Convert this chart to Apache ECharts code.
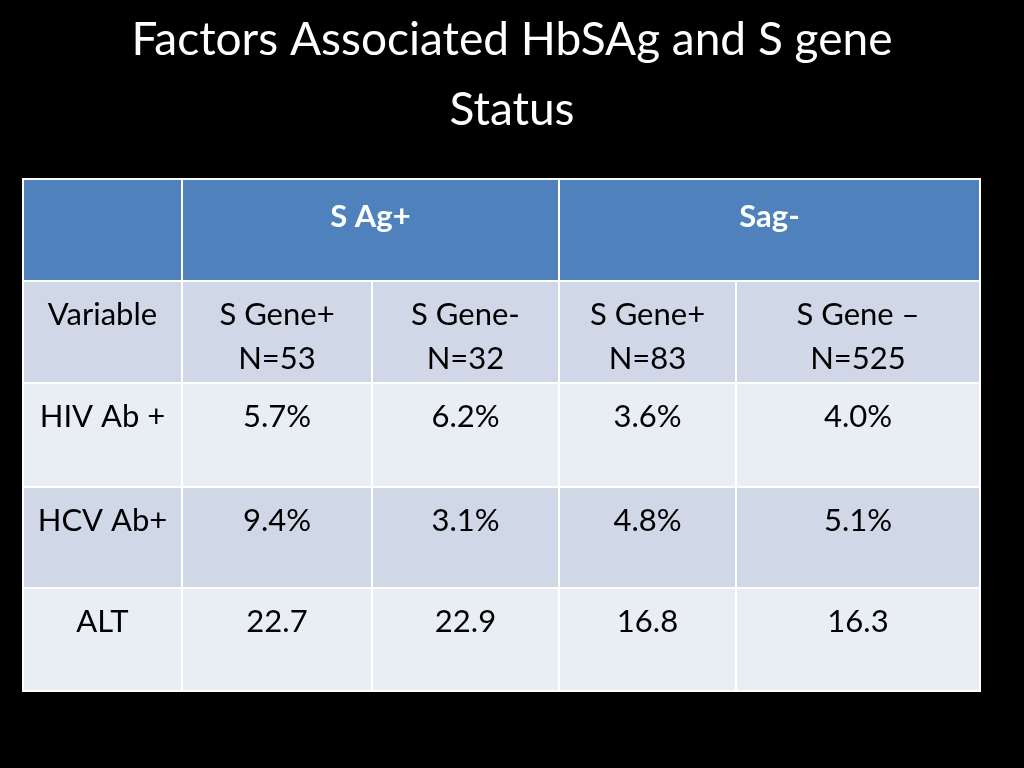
<!DOCTYPE html>
<html>
<head>
<meta charset="UTF-8">
<title>Factors Associated HbSAg and S gene Status</title>
<script src="https://cdn.jsdelivr.net/npm/echarts@6/dist/echarts.min.js"></script>
<style>html,body{margin:0;background:#000;}#main{width:1024px;height:768px;}</style>
</head>
<body>
<div id="main"></div>
<script>
var title = 'Factors Associated HbSAg and S gene\nStatus';
var groupLabels = ['', 'S Ag+', 'Sag-'];
var subLabels = ['Variable', 'S Gene+\nN=53', 'S Gene-\nN=32', 'S Gene+\nN=83', 'S Gene \u2013\nN=525'];
var rowLabels = ['HIV Ab +', 'HCV Ab+', 'ALT'];
var hivValues = ['5.7%', '6.2%', '3.6%', '4.0%'];
var hcvValues = ['9.4%', '3.1%', '4.8%', '5.1%'];
var altValues = ['22.7', '22.9', '16.8', '16.3'];

// layout (pixel grid)
var colEdges = [23, 182, 372, 559, 736, 980];
var rowEdges = [179, 281, 383, 487, 588, 691];
var fills = ['#4F81BD', '#D0D8E8', '#E9EDF4', '#D0D8E8', '#E9EDF4'];

// cell: [colStart, colEnd, row, text]
var cells = [];
cells.push([0, 1, 0, groupLabels[0]], [1, 3, 0, groupLabels[1]], [3, 5, 0, groupLabels[2]]);
subLabels.forEach(function (t, i) { cells.push([i, i + 1, 1, t]); });
[hivValues, hcvValues, altValues].forEach(function (vals, r) {
    cells.push([0, 1, r + 2, rowLabels[r]]);
    vals.forEach(function (v, i) { cells.push([i + 1, i + 2, r + 2, v]); });
});

var chart = echarts.init(document.getElementById('main'));
chart.setOption({
    backgroundColor: '#000',
    title: {
        text: title, left: 'center', top: 0,
        textStyle: {color: '#fff', fontFamily: 'Lato', fontWeight: 'normal', fontSize: 46, lineHeight: 70}
    },
    grid: {left: 0, right: 0, top: 0, bottom: 0},
    xAxis: {type: 'value', min: 0, max: 1024, show: false},
    yAxis: {type: 'value', min: 0, max: 768, inverse: true, show: false},
    series: [{
        type: 'custom',
        data: cells,
        encode: {x: [0, 1], y: 2},
        renderItem: function (params, api) {
            var c = cells[params.dataIndex];
            var p0 = api.coord([colEdges[c[0]], rowEdges[c[2]]]);
            var p1 = api.coord([colEdges[c[1]], rowEdges[c[2] + 1]]);
            var head = c[2] === 0;
            return {
                type: 'group',
                children: [{
                    type: 'rect',
                    shape: {x: p0[0], y: p0[1], width: p1[0] - p0[0], height: p1[1] - p0[1]},
                    style: {fill: fills[c[2]], stroke: '#fff', lineWidth: 2}
                }, {
                    type: 'text',
                    style: {
                        x: (p0[0] + p1[0]) / 2, y: p0[1] + (head ? 16 : 12),
                        text: c[3], align: 'center', verticalAlign: 'top',
                        fill: head ? '#fff' : '#000',
                        fontFamily: 'Lato', fontSize: 31, lineHeight: 44,
                        fontWeight: head ? 'bold' : 'normal'
                    }
                }]
            };
        }
    }]
});
</script>
</body>
</html>
